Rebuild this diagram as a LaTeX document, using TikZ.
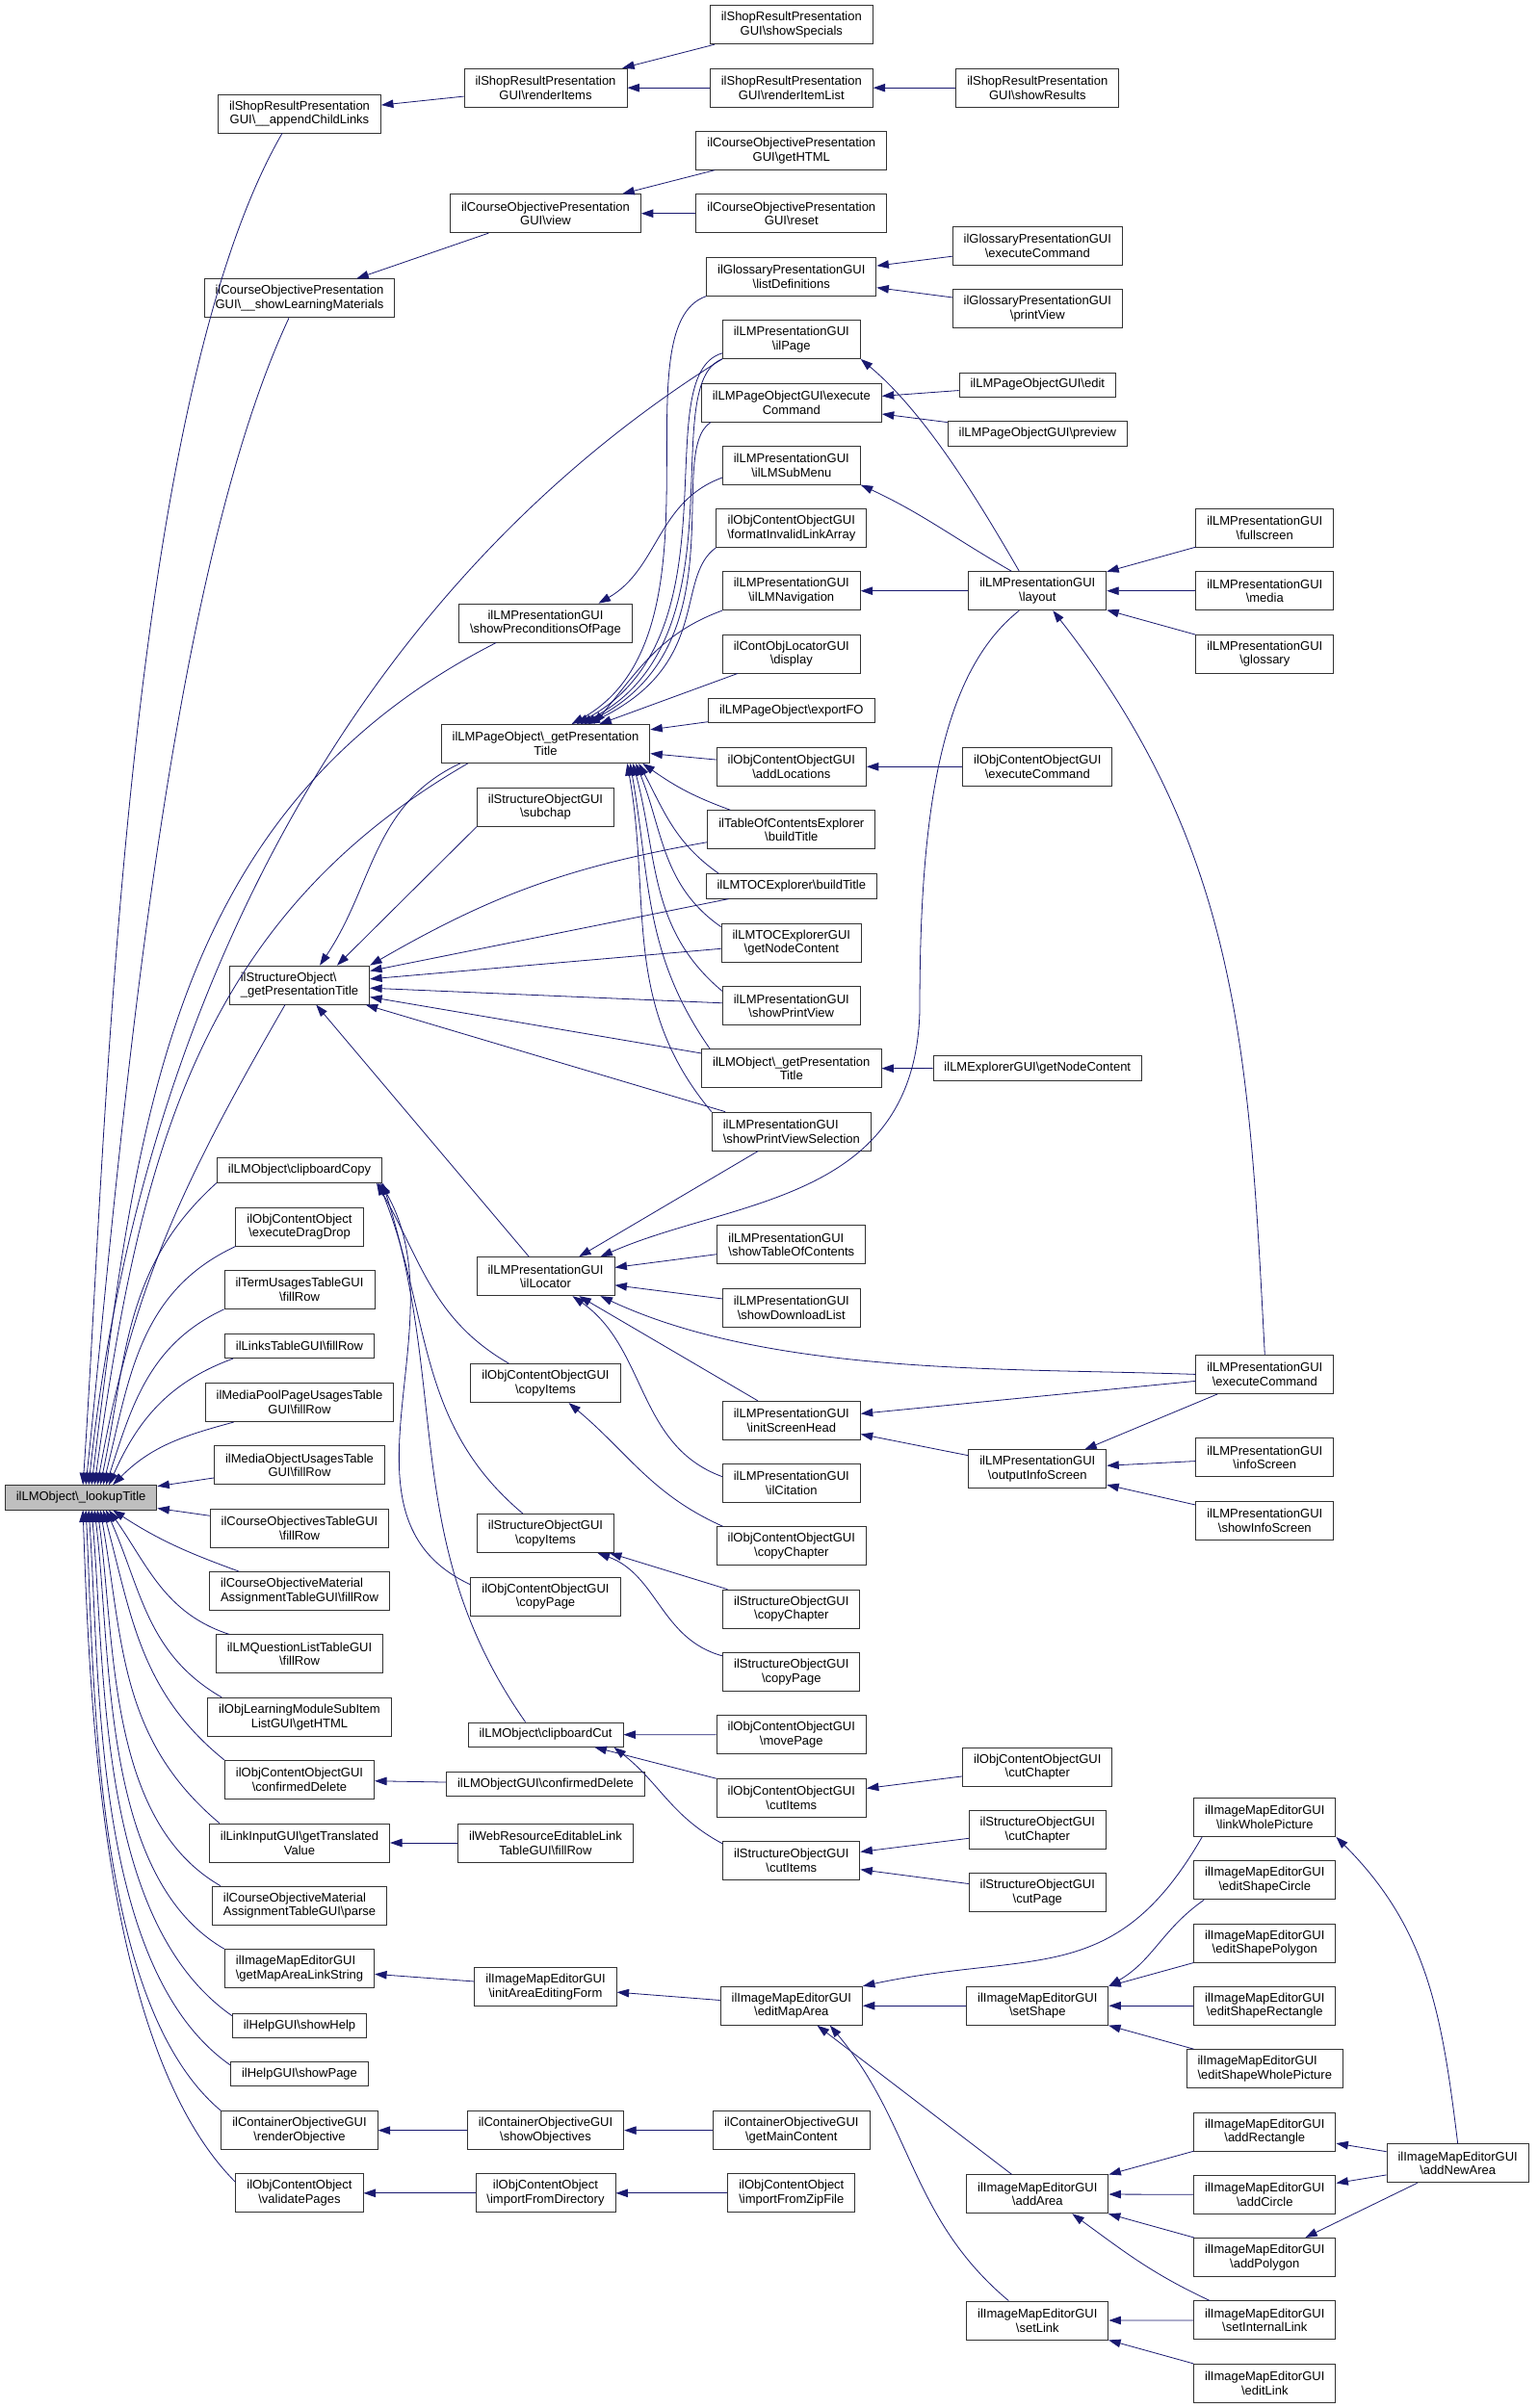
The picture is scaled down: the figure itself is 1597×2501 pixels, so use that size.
\documentclass[tikz,border=0pt]{standalone}
\usepackage{fontspec}
\setmainfont{Liberation Sans}
\usetikzlibrary{arrows.meta}
\definecolor{edgeblue}{HTML}{191970}
\newcommand{\bsl}{\textbackslash}
\tikzset{
  fn/.style={draw=black!80, line width=0.9pt, inner xsep=11.5pt, inner ysep=0pt,
    minimum height=40pt, align=center, font=\fontsize{13}{14.7}\selectfont},
  fnone/.style={fn, minimum height=25.3pt},
  fnleft/.style={fn, align=left},
  rootfn/.style={fnone, fill=black!25},
  call/.style={draw=edgeblue, line width=0.8pt, {Triangle[length=12.5pt,width=8.5pt]}-},
}
\begin{document}
\begin{tikzpicture}[x=1pt,y=1pt]
\path[use as bounding box, fill=white] (0,0) rectangle (1597,-2501);

\node[rootfn] (root) at (84.1,-1555.3) {ilLMObject\bsl\_lookupTitle};

\node[fn] (appendChild) at (311,-118) {ilShopResultPresentation\\GUI\bsl\_\_appendChildLinks};
\node[fn] (showLearnMat) at (311,-309.8) {ilCourseObjectivePresentation\\GUI\bsl\_\_showLearningMaterials};
\node[fnleft] (structTitle) at (311,-1023.1) {ilStructureObject\bsl\\\_getPresentationTitle};
\node[fnone] (clipCopy) at (311,-1215.4) {ilLMObject\bsl clipboardCopy};
\node[fn] (dragDrop) at (311,-1274.1) {ilObjContentObject\\\bsl executeDragDrop};
\node[fn] (termFill) at (311,-1339.4) {ilTermUsagesTableGUI\\\bsl fillRow};
\node[fnone] (linksFill) at (311,-1398) {ilLinksTableGUI\bsl fillRow};
\node[fn] (mpFill) at (311,-1456.6) {ilMediaPoolPageUsagesTable\\GUI\bsl fillRow};
\node[fn] (moFill) at (311,-1521.9) {ilMediaObjectUsagesTable\\GUI\bsl fillRow};
\node[fn] (coFill) at (311,-1587.4) {ilCourseObjectivesTableGUI\\\bsl fillRow};
\node[fnleft] (comFill) at (311,-1652.5) {ilCourseObjectiveMaterial\\AssignmentTableGUI\bsl fillRow};
\node[fn] (qlFill) at (311,-1717.8) {ilLMQuestionListTableGUI\\\bsl fillRow};
\node[fn] (subItem) at (311,-1783.3) {ilObjLearningModuleSubItem\\ListGUI\bsl getHTML};
\node[fn] (cocDelete) at (311,-1848.4) {ilObjContentObjectGUI\\\bsl confirmedDelete};
\node[fn] (linkInput) at (311,-1914) {ilLinkInputGUI\bsl getTranslated\\Value};
\node[fnleft] (comParse) at (311,-1979.1) {ilCourseObjectiveMaterial\\AssignmentTableGUI\bsl parse};
\node[fnleft] (mapLink) at (311,-2044.6) {ilImageMapEditorGUI\\\bsl getMapAreaLinkString};
\node[fnone] (showHelp) at (311,-2103.7) {ilHelpGUI\bsl showHelp};
\node[fnone] (showPage) at (311,-2153.9) {ilHelpGUI\bsl showPage};
\node[fn] (renderObj) at (311,-2212.6) {ilContainerObjectiveGUI\\\bsl renderObjective};
\node[fn] (validate) at (311,-2277.8) {ilObjContentObject\\\bsl validatePages};

\node[fn] (renderItems) at (566.5,-91.2) {ilShopResultPresentation\\GUI\bsl renderItems};
\node[fn] (coView) at (566.5,-221.7) {ilCourseObjectivePresentation\\GUI\bsl view};
\node[fn] (precond) at (566.5,-647.1) {ilLMPresentationGUI\\\bsl showPreconditionsOfPage};
\node[fn] (pageTitle) at (566.5,-772.5) {ilLMPageObject\bsl\_getPresentation\\Title};
\node[fn] (subchap) at (566.5,-838.2) {ilStructureObjectGUI\\\bsl subchap};
\node[fn] (locator) at (566.5,-1325.7) {ilLMPresentationGUI\\\bsl ilLocator};
\node[fn] (cocCopyItems) at (566.5,-1436.6) {ilObjContentObjectGUI\\\bsl copyItems};
\node[fn] (soCopyItems) at (566.5,-1592.5) {ilStructureObjectGUI\\\bsl copyItems};
\node[fn] (cocCopyPage) at (566.5,-1658.2) {ilObjContentObjectGUI\\\bsl copyPage};
\node[fnone] (clipCut) at (566.5,-1801.6) {ilLMObject\bsl clipboardCut};
\node[fnone] (lmoDelete) at (566.5,-1852.8) {ilLMObjectGUI\bsl confirmedDelete};
\node[fn] (webRes) at (566.5,-1914) {ilWebResourceEditableLink\\TableGUI\bsl fillRow};
\node[fn] (areaForm) at (566.5,-2063.4) {ilImageMapEditorGUI\\\bsl initAreaEditingForm};
\node[fn] (showObj) at (566.5,-2212.6) {ilContainerObjectiveGUI\\\bsl showObjectives};
\node[fn] (importDir) at (566.5,-2277.8) {ilObjContentObject\\\bsl importFromDirectory};

\node[fn] (showSpecials) at (821.8,-25.7) {ilShopResultPresentation\\GUI\bsl showSpecials};
\node[fn] (renderItemList) at (821.8,-91.2) {ilShopResultPresentation\\GUI\bsl renderItemList};
\node[fn] (getHTML) at (821.8,-156.3) {ilCourseObjectivePresentation\\GUI\bsl getHTML};
\node[fn] (reset) at (821.8,-221.7) {ilCourseObjectivePresentation\\GUI\bsl reset};
\node[fn] (listDef) at (821.8,-287.2) {ilGlossaryPresentationGUI\\\bsl listDefinitions};
\node[fn] (ilPage) at (821.8,-352.4) {ilLMPresentationGUI\\\bsl ilPage};
\node[fn] (pageExec) at (821.8,-418.2) {ilLMPageObjectGUI\bsl execute\\Command};
\node[fn] (subMenu) at (821.8,-483.1) {ilLMPresentationGUI\\\bsl ilLMSubMenu};
\node[fn] (formatLinks) at (821.8,-548.4) {ilObjContentObjectGUI\\\bsl formatInvalidLinkArray};
\node[fn] (navigation) at (821.8,-613.7) {ilLMPresentationGUI\\\bsl ilLMNavigation};
\node[fn] (display) at (821.8,-679) {ilContObjLocatorGUI\\\bsl display};
\node[fnone] (exportFO) at (821.8,-738) {ilLMPageObject\bsl exportFO};
\node[fn] (addLoc) at (821.8,-796.3) {ilObjContentObjectGUI\\\bsl addLocations};
\node[fn] (tocBuild) at (821.8,-861.7) {ilTableOfContentsExplorer\\\bsl buildTitle};
\node[fnone] (lmtocBuild) at (821.8,-920.5) {ilLMTOCExplorer\bsl buildTitle};
\node[fn] (tocNode) at (821.8,-979) {ilLMTOCExplorerGUI\\\bsl getNodeContent};
\node[fn] (printView) at (821.8,-1044.8) {ilLMPresentationGUI\\\bsl showPrintView};
\node[fn] (lmoTitle) at (821.8,-1109.8) {ilLMObject\bsl\_getPresentation\\Title};
\node[fnleft] (printSel) at (821.8,-1175.1) {ilLMPresentationGUI\\\bsl showPrintViewSelection};
\node[fnleft] (showTOC) at (821.8,-1292.7) {ilLMPresentationGUI\\\bsl showTableOfContents};
\node[fn] (downloadList) at (821.8,-1358) {ilLMPresentationGUI\\\bsl showDownloadList};
\node[fn] (screenHead) at (821.8,-1475.3) {ilLMPresentationGUI\\\bsl initScreenHead};
\node[fn] (citation) at (821.8,-1540.6) {ilLMPresentationGUI\\\bsl ilCitation};
\node[fn] (cocCopyChap) at (821.8,-1605.8) {ilObjContentObjectGUI\\\bsl copyChapter};
\node[fn] (soCopyChap) at (821.8,-1671.1) {ilStructureObjectGUI\\\bsl copyChapter};
\node[fn] (soCopyPage) at (821.8,-1736.3) {ilStructureObjectGUI\\\bsl copyPage};
\node[fn] (movePage) at (821.8,-1801.7) {ilObjContentObjectGUI\\\bsl movePage};
\node[fn] (cocCutItems) at (821.8,-1867.2) {ilObjContentObjectGUI\\\bsl cutItems};
\node[fn] (soCutItems) at (821.8,-1932.3) {ilStructureObjectGUI\\\bsl cutItems};
\node[fn] (editMapArea) at (821.8,-2083.2) {ilImageMapEditorGUI\\\bsl editMapArea};
\node[fn] (mainContent) at (821.8,-2212.6) {ilContainerObjectiveGUI\\\bsl getMainContent};
\node[fn] (zipImport) at (821.8,-2277.8) {ilObjContentObject\\\bsl importFromZipFile};

\node[fn] (showResults) at (1077.3,-91.2) {ilShopResultPresentation\\GUI\bsl showResults};
\node[fn] (glossExec) at (1077.3,-255.1) {ilGlossaryPresentationGUI\\\bsl executeCommand};
\node[fn] (printViewG) at (1077.3,-320.4) {ilGlossaryPresentationGUI\\\bsl printView};
\node[fnone] (pageEdit) at (1077.3,-399.6) {ilLMPageObjectGUI\bsl edit};
\node[fnone] (pagePreview) at (1077.3,-450.3) {ilLMPageObjectGUI\bsl preview};
\node[fn] (layout) at (1077.3,-613.7) {ilLMPresentationGUI\\\bsl layout};
\node[fn] (cocExec) at (1077.3,-796.3) {ilObjContentObjectGUI\\\bsl executeCommand};
\node[fnone] (explorerNode) at (1077.3,-1109.4) {ilLMExplorerGUI\bsl getNodeContent};
\node[fn] (outputInfo) at (1077.3,-1525.9) {ilLMPresentationGUI\\\bsl outputInfoScreen};
\node[fn] (cocCutChap) at (1077.3,-1835.1) {ilObjContentObjectGUI\\\bsl cutChapter};
\node[fn] (soCutChap) at (1077.3,-1900.4) {ilStructureObjectGUI\\\bsl cutChapter};
\node[fn] (soCutPage) at (1077.3,-1965.9) {ilStructureObjectGUI\\\bsl cutPage};
\node[fn] (setShape) at (1077.3,-2083.2) {ilImageMapEditorGUI\\\bsl setShape};
\node[fn] (addArea) at (1077.3,-2278.8) {ilImageMapEditorGUI\\\bsl addArea};
\node[fn] (setLink) at (1077.3,-2410) {ilImageMapEditorGUI\\\bsl setLink};

\node[fn] (fullscreen) at (1313.3,-548.4) {ilLMPresentationGUI\\\bsl fullscreen};
\node[fn] (media) at (1313.3,-613.7) {ilLMPresentationGUI\\\bsl media};
\node[fn] (glossary) at (1313.3,-679) {ilLMPresentationGUI\\\bsl glossary};
\node[fn] (lmpExec) at (1313.3,-1427.4) {ilLMPresentationGUI\\\bsl executeCommand};
\node[fn] (infoScreen) at (1313.3,-1513.9) {ilLMPresentationGUI\\\bsl infoScreen};
\node[fn] (showInfo) at (1313.3,-1579.2) {ilLMPresentationGUI\\\bsl showInfoScreen};
\node[fn] (linkWhole) at (1313.3,-1887.4) {ilImageMapEditorGUI\\\bsl linkWholePicture};
\node[fn] (editCircle) at (1313.3,-1952.8) {ilImageMapEditorGUI\\\bsl editShapeCircle};
\node[fn] (editPolygon) at (1313.3,-2018.2) {ilImageMapEditorGUI\\\bsl editShapePolygon};
\node[fn] (editRect) at (1313.3,-2083.2) {ilImageMapEditorGUI\\\bsl editShapeRectangle};
\node[fnleft] (editWhole) at (1313.3,-2148.6) {ilImageMapEditorGUI\\\bsl editShapeWholePicture};
\node[fn] (addRect) at (1313.3,-2214) {ilImageMapEditorGUI\\\bsl addRectangle};
\node[fn] (addCircle) at (1313.3,-2279.5) {ilImageMapEditorGUI\\\bsl addCircle};
\node[fn] (addPolygon) at (1313.3,-2344.4) {ilImageMapEditorGUI\\\bsl addPolygon};
\node[fn] (setIntLink) at (1313.3,-2409.9) {ilImageMapEditorGUI\\\bsl setInternalLink};
\node[fn] (editLink) at (1313.3,-2475.3) {ilImageMapEditorGUI\\\bsl editLink};

\node[fn] (addNewArea) at (1513.7,-2246.8) {ilImageMapEditorGUI\\\bsl addNewArea};

\draw[call] ([xshift=2pt]root.north) .. controls +(86:334) and +(-120:334) .. ([xshift=-18pt]appendChild.south);
\draw[call] ([xshift=5pt]root.north) .. controls +(84:313) and +(-115:313) .. ([xshift=-11pt]showLearnMat.south);
\draw[call] ([xshift=8pt]root.north) .. controls +(84:473) and +(-148:473) .. (ilPage.south west);
\draw[call] ([xshift=11pt]root.north) .. controls +(83:380) and +(-153:380) .. ([xshift=39pt]precond.south west);
\draw[call] ([xshift=14pt]root.north) .. controls +(82:331) and +(-150:331) .. ([xshift=28pt]pageTitle.south west);
\draw[call] ([xshift=17pt]root.north) .. controls +(80:210) and +(-120:210) .. ([xshift=-15pt]structTitle.south);
\draw[call] ([xshift=20pt]root.north) .. controls +(78:132) and +(-138:132) .. (clipCopy.south west);
\draw[call] ([xshift=23pt]root.north) .. controls +(76:112) and +(-155:112) .. (dragDrop.south west);
\draw[call] ([xshift=26pt]root.north) .. controls +(72:86) and +(-155:86) .. (termFill.south west);
\draw[call] ([xshift=29pt]root.north) .. controls +(66:72) and +(-160:72) .. ([xshift=9pt]linksFill.south west);
\draw[call] ([xshift=33pt]root.north) .. controls +(45:56) and +(-165:56) .. ([xshift=30pt]mpFill.south west);
\draw[call] (root) -- (moFill);
\draw[call] (root) -- (coFill);
\draw[call] ([xshift=33pt]root.south) .. controls +(-33:57) and +(160:57) .. ([xshift=31pt]comFill.north west);
\draw[call] ([xshift=29pt]root.south) .. controls +(-55:70) and +(162:70) .. ([xshift=14pt]qlFill.north west);
\draw[call] ([xshift=26pt]root.south) .. controls +(-66:90) and +(150:90) .. ([xshift=15pt]subItem.north west);
\draw[call] ([xshift=23pt]root.south) .. controls +(-75:113) and +(141:113) .. (cocDelete.north west);
\draw[call] ([xshift=20pt]root.south) .. controls +(-80:137) and +(140:137) .. ([xshift=11pt]linkInput.north west);
\draw[call] ([xshift=17pt]root.south) .. controls +(-82:137) and +(150:137) .. ([xshift=9pt]comParse.north west);
\draw[call] ([xshift=14pt]root.south) .. controls +(-83:149) and +(150:149) .. (mapLink.north west);
\draw[call] ([xshift=11pt]root.south) .. controls +(-85:171) and +(145:171) .. ([yshift=-3pt]showHelp.north west);
\draw[call] ([xshift=8pt]root.south) .. controls +(-86:175) and +(145:175) .. ([yshift=-4pt]showPage.north west);
\draw[call] ([xshift=5pt]root.south) .. controls +(-87:175) and +(140:175) .. (renderObj.north west);
\draw[call] ([xshift=2pt]root.south) .. controls +(-88:196) and +(135:196) .. ([yshift=-9pt]validate.north west);

\draw[call] (appendChild) -- (renderItems);
\draw[call] (renderItems) -- (showSpecials);
\draw[call] (renderItems) -- (renderItemList);
\draw[call] (renderItemList) -- (showResults);
\draw[call] (showLearnMat) -- (coView);
\draw[call] (coView) -- (getHTML);
\draw[call] (coView) -- (reset);
\draw[call] (listDef) -- (glossExec);
\draw[call] (listDef) -- (printViewG);
\draw[call] (ilPage.south east) .. controls +(-40:87) and +(120:87) .. ([xshift=-19pt]layout.north);
\draw[call] (subMenu.south east) .. controls +(-25:71) and +(150:71) .. ([xshift=-27pt]layout.north);
\draw[call] (navigation) -- (layout);
\draw[call] (layout) -- (fullscreen);
\draw[call] (layout) -- (media);
\draw[call] (layout) -- (glossary);
\draw[call] ([xshift=16pt]layout.south) .. controls +(-52:315) and +(93:315) .. (lmpExec.north);
\draw[call] (pageExec) -- (pageEdit);
\draw[call] (pageExec) -- (pagePreview);
\draw[call] ([xshift=55pt]precond.north) .. controls +(30:72) and +(-160:72) .. ([yshift=-13pt]subMenu.west);
\draw[call] (addLoc) -- (cocExec);
\draw[call] (lmoTitle) -- (explorerNode);

\draw[call] ([xshift=27pt]pageTitle.north) .. controls (760,-660) and (640,-340) .. (listDef.south west);
\draw[call] ([xshift=32pt]pageTitle.north) .. controls (770,-660) and (670,-390) .. ([yshift=6pt]ilPage.south west);
\draw[call] ([xshift=36pt]pageTitle.north) .. controls (775,-665) and (680,-400) .. (ilPage.south west);
\draw[call] ([xshift=40pt]pageTitle.north) .. controls (770,-670) and (690,-470) .. ([xshift=10pt]pageExec.south west);
\draw[call] ([xshift=44pt]pageTitle.north) .. controls (740,-690) and (700,-600) .. (formatLinks.south west);
\draw[call] ([xshift=50pt]pageTitle.north) .. controls +(50:70) and +(-160:70) .. (navigation.south west);
\draw[call] (pageTitle) -- (display);
\draw[call] (pageTitle) -- (exportFO);
\draw[call] (pageTitle) -- (addLoc);
\draw[call] ([xshift=-8pt]pageTitle.south east) .. controls +(-35:41) and +(160:41) .. ([xshift=24pt]tocBuild.north west);
\draw[call] ([xshift=-12pt]pageTitle.south east) .. controls +(-62:56) and +(145:56) .. ([xshift=14pt]lmtocBuild.north west);
\draw[call] ([xshift=-15pt]pageTitle.south east) .. controls +(-68:75) and +(145:75) .. ([yshift=-4pt]tocNode.north west);
\draw[call] ([xshift=-18pt]pageTitle.south east) .. controls +(-75:100) and +(140:100) .. ([yshift=-5pt]printView.north west);
\draw[call] ([xshift=-21pt]pageTitle.south east) .. controls +(-80:121) and +(125:121) .. ([xshift=9pt]lmoTitle.north west);
\draw[call] ([xshift=-24pt]pageTitle.south east) .. controls +(-80:146) and +(130:146) .. (printSel.north west);

\draw[call] ([xshift=21pt]structTitle.north) .. controls +(56:100) and +(-155:100) .. ([xshift=20pt]pageTitle.south west);
\draw[call] ([xshift=39pt]structTitle.north) -- (subchap.south west);
\draw[call] (structTitle.north east) .. controls +(30:146) and +(-170:146) .. ([yshift=-13pt]tocBuild.west);
\draw[call] (structTitle) -- (lmtocBuild);
\draw[call] (structTitle) -- (tocNode);
\draw[call] (structTitle) -- (printView);
\draw[call] (structTitle) -- (lmoTitle);
\draw[call] (structTitle) -- (printSel);
\draw[call] (structTitle) -- (locator);

\coordinate (locBend) at (955,-1050);
\draw[call] (locator) -- (printSel);
\draw[call] ([xshift=-15pt]locator.north east) .. controls (760,-1245) and (950,-1250) .. (locBend) .. controls (955,-850) and (975,-700) .. ([xshift=-19pt]layout.south);
\draw[call] (locator) -- (showTOC);
\draw[call] (locator) -- (downloadList);
\draw[call] ([xshift=-15pt]locator.south east) .. controls +(-25:196) and +(178:196) .. (lmpExec.west);
\draw[call] (locator) -- (screenHead);
\draw[call] ([xshift=28pt]locator.south) .. controls +(-35:94) and +(160:94) .. ([yshift=7pt]citation.west);

\draw[call] ([xshift=-6pt]clipCopy.south east) .. controls +(-60:92) and +(150:92) .. ([xshift=40pt]cocCopyItems.north west);
\draw[call] ([xshift=-4pt]clipCopy.south east) .. controls +(-68:147) and +(140:147) .. ([xshift=48pt]soCopyItems.north west);
\draw[call] ([xshift=-2pt]clipCopy.south east) .. controls +(-60:168) and +(155:168) .. ([yshift=-8pt]cocCopyPage.north west);
\draw[call] (clipCopy.south east) .. controls +(-72:227) and +(125:227) .. ([xshift=60pt]clipCut.north west);
\draw[call] ([xshift=24pt]cocCopyItems.south) .. controls +(-40:81) and +(156:81) .. ([xshift=7pt]cocCopyChap.north west);
\draw[call] (soCopyItems) -- (soCopyChap);
\draw[call] ([xshift=54pt]soCopyItems.south) .. controls +(-20:66) and +(165:66) .. ([yshift=-4pt]soCopyPage.north west);
\draw[call] (clipCut) -- (movePage);
\draw[call] (clipCut) -- (cocCutItems);
\draw[call] ([xshift=-10pt]clipCut.south east) .. controls +(-38:60) and +(152:60) .. ([yshift=-3pt]soCutItems.north west);
\draw[call] (cocCutItems) -- (cocCutChap);
\draw[call] (soCutItems) -- (soCutChap);
\draw[call] (soCutItems) -- (soCutPage);
\draw[call] (cocDelete) -- (lmoDelete);
\draw[call] (linkInput) -- (webRes);

\draw[call] (mapLink) -- (areaForm);
\draw[call] (areaForm) -- (editMapArea);
\draw[call] (editMapArea.north east) .. controls +(12:182) and +(-120:182) .. ([xshift=9pt]linkWhole.south west);
\draw[call] (editMapArea) -- (setShape);
\draw[call] (editMapArea) -- (addArea);
\draw[call] ([xshift=40pt]editMapArea.south) .. controls +(-50:134) and +(140:134) .. ([xshift=-30pt]setLink.north);
\draw[call] (setShape.north east) .. controls +(30:53) and +(-145:53) .. ([xshift=11pt]editCircle.south west);
\draw[call] (setShape) -- (editPolygon);
\draw[call] (setShape) -- (editRect);
\draw[call] (setShape) -- (editWhole);
\draw[call] (addArea) -- (addRect);
\draw[call] (addArea) -- (addCircle);
\draw[call] (addArea) -- (addPolygon);
\draw[call] ([xshift=36pt]addArea.south) .. controls +(-36:67) and +(155:67) .. ([xshift=17pt]setIntLink.north west);
\draw[call] (setLink) -- (setIntLink);
\draw[call] (setLink) -- (editLink);
\draw[call] (linkWhole.south east) .. controls +(-45:135) and +(97:135) .. (addNewArea.north);
\draw[call] (addRect) -- (addNewArea);
\draw[call] (addCircle) -- (addNewArea);
\draw[call] (addPolygon) -- (addNewArea);

\draw[call] (renderObj) -- (showObj);
\draw[call] (showObj) -- (mainContent);
\draw[call] (validate) -- (importDir);
\draw[call] (importDir) -- (zipImport);
\draw[call] (screenHead) -- (outputInfo);
\draw[call] (screenHead) -- (lmpExec);
\draw[call] (outputInfo) -- (lmpExec);
\draw[call] (outputInfo) -- (infoScreen);
\draw[call] (outputInfo) -- (showInfo);
\end{tikzpicture}
\end{document}
